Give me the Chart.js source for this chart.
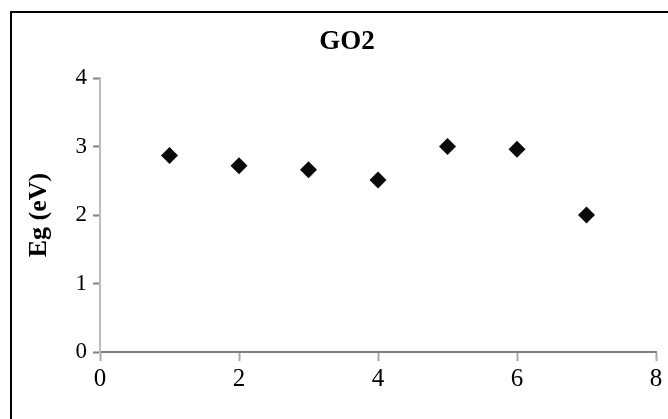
<!DOCTYPE html>
<html>
<head>
<meta charset="utf-8">
<script src="https://cdn.jsdelivr.net/npm/chart.js@4"></script>
<style>
  html, body { margin: 0; padding: 0; background: #fff; overflow: hidden; }
  .wrap { position: relative; width: 668px; height: 419px; }
  .frame { position: absolute; left: 10px; top: 11px; width: 720px; height: 500px;
    border-top: 2px solid #000; border-left: 2px solid #000; box-sizing: border-box; }
  .title { position: absolute; left: 247px; width: 200px; top: 25px; text-align: center;
    font: bold 27px "Liberation Serif", "Times New Roman", serif; color: #000; }
  canvas { position: absolute; left: 0; top: 0; }
</style>
</head>
<body>
<div class="wrap">
  <canvas id="c" width="668" height="419"></canvas>
  <div class="frame"></div>
  <div class="title">GO2</div>
</div>
<script>
// GO2 band gap scatter
const sampleX = [1, 2, 3, 4, 5, 6, 7];
const bandGap = [2.87, 2.72, 2.66, 2.51, 3.0, 2.96, 2.0];
const yTicks = [0, 1, 2, 3, 4];
const xTicks = [0, 2, 4, 6, 8];

const serif = '"Liberation Serif", "Times New Roman", serif';

const points = sampleX.map(function (x, i) { return { x: x, y: bandGap[i] }; });

new Chart(document.getElementById('c'), {
    type: 'scatter',
    data: {
        datasets: [{
            label: 'Eg',
            data: points,
            pointStyle: 'rectRot',
            pointRadius: 8.5,
            pointHoverRadius: 8.5,
            pointBorderWidth: 0,
            backgroundColor: '#0a0a0a',
            borderColor: '#0a0a0a'
        }]
    },
    options: {
        responsive: false,
        animation: false,
        layout: { padding: { top: 78, right: 12, left: 0, bottom: 0 } },
        plugins: { legend: { display: false }, tooltip: { enabled: false } },
        scales: {
            x: {
                type: 'linear',
                min: xTicks[0], max: xTicks[xTicks.length - 1],
                afterBuildTicks: function (s) { s.ticks = xTicks.map(function (v) { return { value: v }; }); },
                afterFit: function (s) { s.height = 67; },
                grid: { drawOnChartArea: false, tickLength: 9, tickColor: '#aaa', tickWidth: 2 },
                border: { color: '#808080', width: 2 },
                ticks: { color: '#000', padding: 3, font: { family: serif, size: 25 } }
            },
            y: {
                min: yTicks[0], max: yTicks[yTicks.length - 1],
                afterBuildTicks: function (s) { s.ticks = yTicks.map(function (v) { return { value: v }; }); },
                afterFit: function (s) { s.width = 100; },
                grid: { drawOnChartArea: false, tickLength: 7, tickColor: '#808080', tickWidth: 2 },
                border: { color: '#bbb', width: 2 },
                ticks: { color: '#000', padding: 6, font: { family: serif, size: 23 } },
                title: {
                    display: true, text: 'Eg (eV)', color: '#000',
                    padding: { top: 24, bottom: 0 },
                    font: { family: serif, size: 26, weight: 'bold' }
                }
            }
        }
    }
});
</script>
</body>
</html>
